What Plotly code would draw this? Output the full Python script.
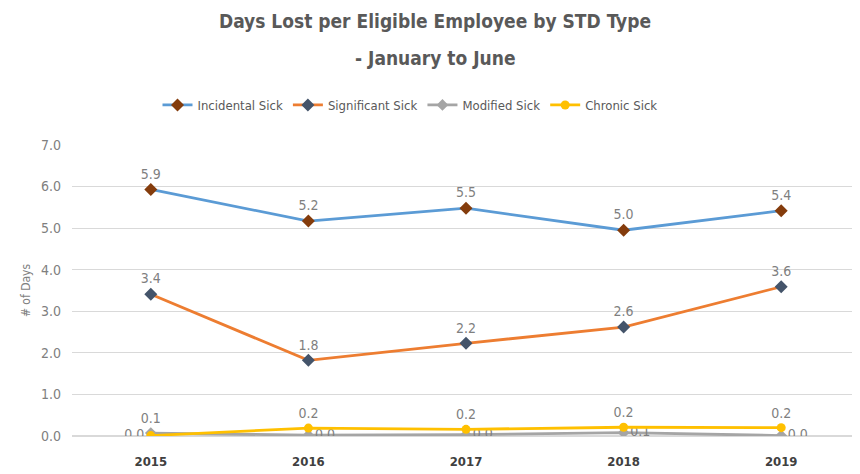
import plotly.graph_objects as go

years = ["2015", "2016", "2017", "2018", "2019"]
incidental = [5.93, 5.17, 5.48, 4.95, 5.42]
significant = [3.41, 1.82, 2.23, 2.62, 3.59]
modified = [0.07, 0.02, 0.03, 0.08, 0.01]
chronic = [0.01, 0.19, 0.16, 0.21, 0.20]

title_line1 = "Days Lost per Eligible Employee by STD Type"
title_line2 = "- January to June"
y_title = "# of Days"

FONT = "DejaVu Sans Condensed, Liberation Sans Narrow, sans-serif"
LABEL_GREY = "#7f7f7f"

# page body has an 8px margin; figure is sized to fill the rest of the window
W, H = 852, 466
T, B, L, R = 137, 38, 64, 0
PH = H - T - B


def py(page_y):
    """paper y for a page pixel row"""
    fig_y = page_y - 8
    return (H - B - fig_y) / PH


def cy(page_y):
    """container y for a page pixel row"""
    return 1 - (page_y - 8) / H


fig = go.Figure()

fig.add_trace(go.Scatter(
    x=years, y=incidental, name="Incidental Sick", mode="lines+markers+text",
    line=dict(color="#5B9BD5", width=2.8),
    marker=dict(symbol="diamond", size=10, color="#843C0C"),
    texttemplate="%{y:.1f}", textposition="top center",
    textfont=dict(size=14, color=LABEL_GREY, family=FONT),
))
fig.add_trace(go.Scatter(
    x=years, y=significant, name="Significant Sick", mode="lines+markers+text",
    line=dict(color="#ED7D31", width=2.8),
    marker=dict(symbol="diamond", size=10, color="#44546A"),
    texttemplate="%{y:.1f}", textposition="top center",
    textfont=dict(size=14, color=LABEL_GREY, family=FONT),
))
fig.add_trace(go.Scatter(
    x=years, y=modified, name="Modified Sick", mode="lines+markers+text",
    line=dict(color="#A5A5A5", width=2.8),
    marker=dict(symbol="diamond", size=9, color="#A5A5A5"),
    texttemplate="%{y:.1f}",
    textposition=["top center", "middle right", "middle right", "middle right", "middle right"],
    textfont=dict(size=14, color=LABEL_GREY, family=FONT),
))
fig.add_trace(go.Scatter(
    x=years, y=chronic, name="Chronic Sick", mode="lines+markers+text",
    line=dict(color="#FFC000", width=2.8),
    marker=dict(symbol="circle", size=9, color="#FFC000"),
    texttemplate="%{y:.1f}",
    textposition=["middle left", "top center", "top center", "top center", "top center"],
    textfont=dict(size=14, color=LABEL_GREY, family=FONT),
))

fig.update_layout(
    width=W, height=H,
    margin=dict(l=L, r=R, t=T, b=B, autoexpand=False),
    paper_bgcolor="white", plot_bgcolor="white",
    font=dict(family=FONT, color="#595959"),
    title=dict(text="<b>" + title_line1 + "</b>", x=(435 - 8) / W, xanchor="center",
               xref="container", y=cy(21), yanchor="middle", yref="container",
               font=dict(size=19, color="#595959", family=FONT)),
    annotations=[dict(text="<b>" + title_line2 + "</b>", x=(435 - 8 - L) / (W - L - R), xref="paper",
                      y=py(58), yref="paper", yanchor="middle",
                      showarrow=False, font=dict(size=19, color="#595959", family=FONT))],
    showlegend=True,
    legend=dict(orientation="h", x=(410 - 8 - L) / (W - L - R), xanchor="center", y=py(105),
                yanchor="middle", font=dict(size=13, color="#595959", family=FONT),
                itemwidth=30, tracegroupgap=0),
    xaxis=dict(type="category", range=[-0.5, 4.5], showgrid=False, showline=False, ticks="",
               tickfont=dict(size=13, color="#404040", family=FONT),
               tickprefix="<b>", ticksuffix="</b>", ticklabelstandoff=16, fixedrange=True),
    yaxis=dict(range=[0, 7], dtick=1, tickformat=".1f", showgrid=True,
               gridcolor="#D9D9D9", gridwidth=1, zeroline=True, zerolinecolor="#D9D9D9",
               showline=False, ticks="", ticklen=0, ticklabelstandoff=10,
               tickfont=dict(size=14, color="#7f7f7f", family=FONT),
               title=dict(text=y_title, font=dict(size=12, color="#7f7f7f", family=FONT),
                          standoff=7)),
)

fig.write_html("out.html")
